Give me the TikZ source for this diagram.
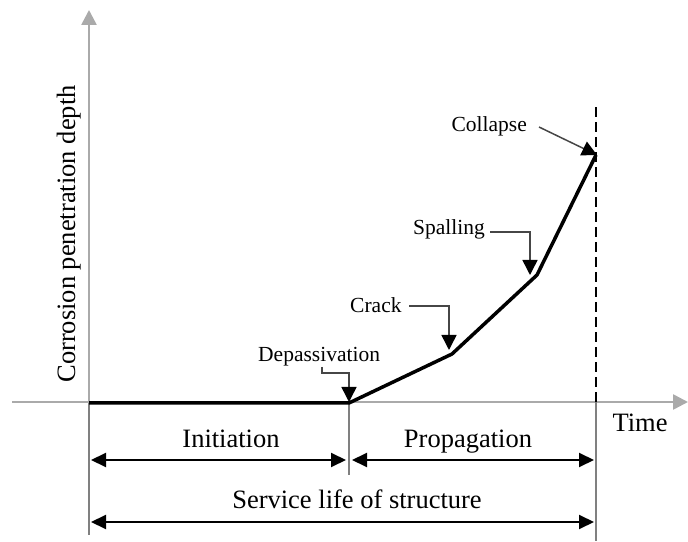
\documentclass[tikz,border=0pt]{standalone}
\usepackage{fontspec}
\setmainfont{Liberation Serif}
\usetikzlibrary{arrows.meta}
\begin{document}
\begin{tikzpicture}[x=1pt,y=1pt,
  axisline/.style={draw={rgb,255:red,170;green,170;blue,170}, line width=2.6pt, -{Triangle[length=15pt,width=15pt]}},
  sepline/.style={draw={rgb,255:red,128;green,128;blue,128}, line width=2pt},
  curveline/.style={draw=black, line width=3.5pt, line join=round},
  dimline/.style={draw=black, line width=2pt, {Triangle[length=15pt,width=14pt]}-{Triangle[length=15pt,width=14pt]}},
  connline/.style={draw={rgb,255:red,70;green,70;blue,70}, line width=1.5pt, -{Triangle[length=15pt,width=15pt,color=black]}},
  biglbl/.style={inner sep=0pt, font=\fontsize{26.5}{30}\selectfont},
  smalllbl/.style={inner sep=0pt, font=\fontsize{21.5}{24}\selectfont},
  dashline/.style={draw=black, line width=2.5pt, dash pattern=on 10pt off 5pt}
]
\useasboundingbox (0,0) rectangle (688,541);
% key points
\coordinate (O) at (89,138);
\coordinate (D) at (349,138);
\coordinate (C) at (452,187);
\coordinate (S) at (537,266);
\coordinate (F) at (596,386);
\coordinate (xs) at (12,139);
\coordinate (xe) at (688,139);
\coordinate (ye) at (89,531);
\coordinate (dtop) at (596,434);
\coordinate (Ob) at (89,6);
\coordinate (Db) at (349,66);
\coordinate (Fb) at (596,0);
\coordinate (Fx) at (596,139);
% axes
\draw[axisline] (xs) -- (xe);
\draw[axisline] (O) -- (ye);
% separators
\draw[sepline] (O) -- (Ob);
\draw[sepline] (D) -- (Db);
\draw[sepline] (Fx) -- (Fb);
\draw[dashline] (Fx) -- (dtop);
% curve
\draw[curveline] (O) -- (D) -- (C) -- (S) -- (F);
% dimension arrows
\coordinate (a1) at (91,81);
\coordinate (a2) at (346,81);
\coordinate (a3) at (352,81);
\coordinate (a4) at (594,81);
\coordinate (b1) at (91,19);
\coordinate (b2) at (594,19);
\draw[dimline] (a1) -- (a2);
\draw[dimline] (a3) -- (a4);
\draw[dimline] (b1) -- (b2);
% labels
\node[biglbl, anchor=base] (init) at (231,93) {Initiation};
\node[biglbl, anchor=base] (prop) at (468,93) {Propagation};
\node[biglbl, anchor=base] (serv) at (357,33) {Service life of structure};
\node[biglbl, anchor=base] (time) at (640,109) {Time};
\node[biglbl, anchor=base, rotate=90] (ylab) at (75,307) {Corrosion penetration depth};
% event labels
\node[smalllbl, anchor=base west] (dep) at (258,179) {Depassivation};
\node[smalllbl, anchor=base west] (crk) at (350,228) {Crack};
\node[smalllbl, anchor=base west] (spl) at (413,306) {Spalling};
\node[smalllbl, anchor=base east] (col) at (527,409) {Collapse};
\coordinate (d1) at (322,174);
\coordinate (c1) at (409,235);
\coordinate (s1) at (490,309);
\coordinate (f1) at (539,414);
\draw[connline] (d1) -- ++(0,-6) -| ([yshift=1pt]D);
\draw[connline] (c1) -| ([xshift=-3pt,yshift=4pt]C);
\draw[connline] (s1) -| ([xshift=-7pt,yshift=0pt]S);
\draw[connline] (f1) -- ([xshift=1pt]F);
\end{tikzpicture}
\end{document}
